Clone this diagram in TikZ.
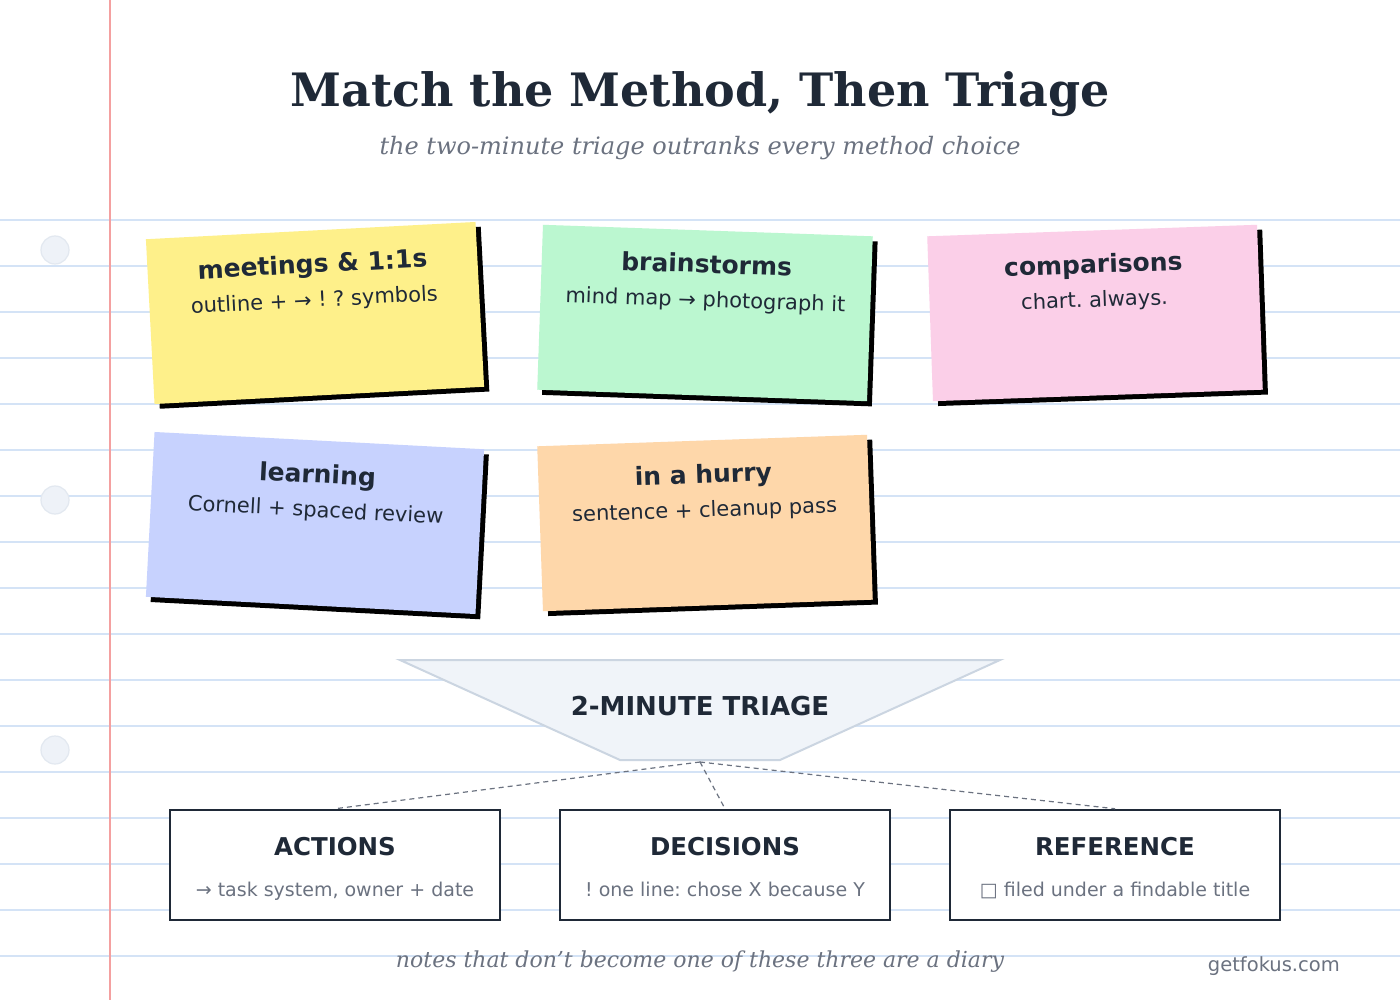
\documentclass[tikz,border=0pt]{standalone}
\usepackage{fontspec}
\setmainfont{DejaVu Sans}
\newfontfamily\seriffam{DejaVu Serif}
\frenchspacing
\usetikzlibrary{calc}
\definecolor{ink}{HTML}{1F2937}
\definecolor{muted}{HTML}{6B7280}
\definecolor{rulecol}{HTML}{D4E3F6}
\definecolor{margincol}{HTML}{F4A0A0}
\definecolor{holefill}{HTML}{EEF2F8}
\definecolor{holeline}{HTML}{E2E8F0}
\definecolor{trifill}{HTML}{F0F4F9}
\definecolor{triline}{HTML}{CBD5E1}
\definecolor{nyellow}{HTML}{FEF08A}
\definecolor{ngreen}{HTML}{BBF7D0}
\definecolor{npink}{HTML}{FBCFE8}
\definecolor{nblue}{HTML}{C7D2FE}
\definecolor{norange}{HTML}{FED7AA}
\tikzset{
  rule/.style={draw=rulecol, line width=1.5pt},
  marginline/.style={draw=margincol, line width=2pt},
  hole/.style={fill=holefill, draw=holeline, line width=1.2pt},
  shadowbox/.style={fill=black, minimum width=330pt, minimum height=165pt, inner sep=0pt},
  note/.style={minimum width=330pt, minimum height=165pt, inner sep=0pt},
  notetitle/.style={anchor=base, text=ink, font=\bfseries\fontsize{25}{29}\selectfont, inner sep=0pt},
  notesub/.style={anchor=base, text=ink, font=\fontsize{21}{25}\selectfont, inner sep=0pt},
  outbox/.style={draw=ink, fill=white, line width=2.5pt, minimum width=330pt, minimum height=110pt, inner sep=0pt},
  boxtitle/.style={anchor=base, text=ink, font=\bfseries\fontsize{24.5}{28}\selectfont, inner sep=0pt},
  boxsub/.style={anchor=base, text=muted, font=\fontsize{19}{23}\selectfont, inner sep=0pt},
  conn/.style={draw=muted, line width=1.2pt, dash pattern=on 5pt off 4pt},
}
\newcommand\stickynote[7]{%
  \begin{scope}[shift={(#2,#3)}, rotate=#4, transform shape]
    \node[shadowbox] (#1shadow) at (5,5) {};
    \node[note, fill=#5] (#1) at (0,0) {};
    \node[notetitle] (#1title) at (0,-40) {#6};
    \node[notesub] (#1sub) at (0,-6) {#7};
  \end{scope}}
\begin{document}
\begin{tikzpicture}[x=1pt,y=-1pt]
\useasboundingbox (0,0) rectangle (1400,1000);
\fill[white] (0,0) rectangle (1400,1000);
\foreach \yy in {220,266,...,956} \draw[rule] (0,\yy) -- (1400,\yy);
\draw[marginline] (110,0) -- (110,1000);
\foreach \yy in {250,500,750} \draw[hole] (55,\yy) circle[radius=14pt];

\node[anchor=base, text=ink, font=\seriffam\bfseries\fontsize{46}{52}\selectfont, inner sep=0pt] (title) at (700,107) {Match the Method, Then Triage};
\node[anchor=base, text=muted, font=\seriffam\itshape\fontsize{24}{28}\selectfont, inner sep=0pt] (subtitle) at (700,155) {the two-minute triage outranks every method choice};

\stickynote{meet}{315}{313}{3}{nyellow}{meetings \& 1:1s}{outline + → ! ? symbols}
\stickynote{brain}{705}{313}{-2}{ngreen}{brainstorms}{mind map → photograph it}
\stickynote{comp}{1095}{313}{2}{npink}{comparisons}{chart. always.}
\stickynote{learn}{315}{523}{-3}{nblue}{learning}{Cornell + spaced review}
\stickynote{hurry}{705}{523}{2}{norange}{in a hurry}{sentence + cleanup pass}

\filldraw[fill=trifill, draw=triline, line width=2pt] (400,660) -- (1000,660) -- (780,760) -- (620,760) -- cycle;
\node[anchor=base, text=ink, font=\bfseries\fontsize{26}{30}\selectfont, inner sep=0pt] (triage) at (700,715) {2-MINUTE TRIAGE};
\coordinate (tip) at (700,762);

\node[outbox] (actions) at (335,865) {};
\node[outbox] (decisions) at (725,865) {};
\node[outbox] (reference) at (1115,865) {};
\draw[conn] (tip) -- (actions.north);
\draw[conn] (tip) -- (decisions.north);
\draw[conn] (tip) -- (reference.north);

\node[boxtitle] (actionsT) at (335,855) {ACTIONS};
\node[boxsub] (actionsS) at (335,896) {→ task system, owner + date};
\node[boxtitle] (decisionsT) at (725,855) {DECISIONS};
\node[boxsub] (decisionsS) at (725,896) {! one line: chose X because Y};
\node[boxtitle] (referenceT) at (1115,855) {REFERENCE};
\node[boxsub] (referenceS) at (1115,896) {□ filed under a findable title};

\node[anchor=base, text=muted, font=\seriffam\itshape\fontsize{22}{26}\selectfont, inner sep=0pt] (footer) at (700,967) {notes that don’t become one of these three are a diary};
\node[anchor=base east, text=muted, font=\fontsize{19.5}{23}\selectfont, inner sep=0pt] (brand) at (1340,971) {getfokus.com};
\end{tikzpicture}
\end{document}
